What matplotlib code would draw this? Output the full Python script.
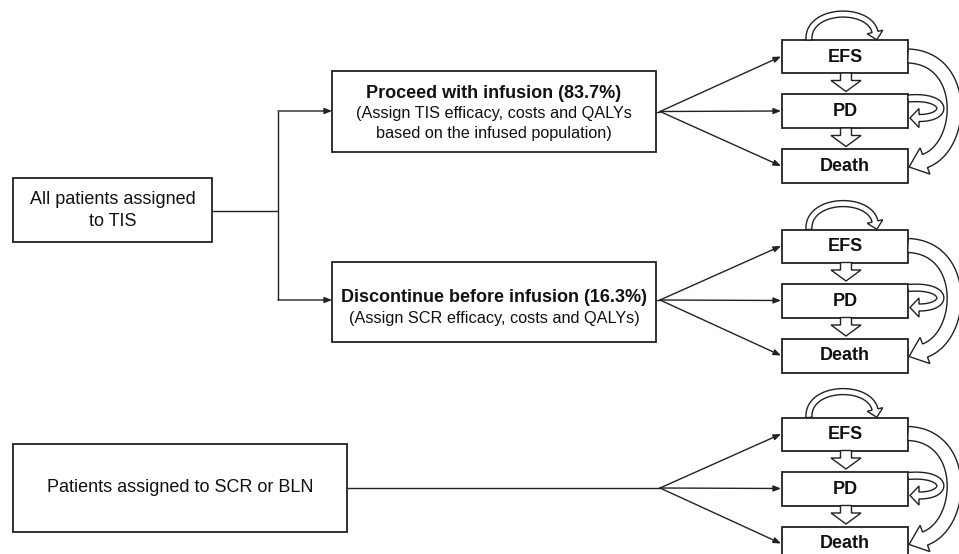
import numpy as np
import matplotlib
matplotlib.use("Agg")
import matplotlib.pyplot as plt
from matplotlib.patches import Rectangle, Polygon

plt.rcParams['font.family'] = ['Liberation Sans', 'DejaVu Sans']

# ---------------- data ----------------
states = ["EFS", "PD", "Death"]
proceed_pct = 83.7
discontinue_pct = 16.3
root_label = "All patients assigned\nto TIS"
comparator_label = "Patients assigned to SCR or BLN"
branch_titles = [f"Proceed with infusion ({proceed_pct}%)",
                 f"Discontinue before infusion ({discontinue_pct}%)"]
branch_notes = ["(Assign TIS efficacy, costs and QALYs\nbased on the infused population)",
                "(Assign SCR efficacy, costs and QALYs)"]

# ---------------- figure ----------------
W, H = 959, 554
fig = plt.figure(figsize=(W / 100, H / 100), dpi=100)
ax = fig.add_axes([0, 0, 1, 1])
ax.set_xlim(0, W)
ax.set_ylim(H, 0)
ax.axis('off')

EC = '#222222'
TC = '#111111'


def box(x0, y0, x1, y1, lw=1.3):
    ax.add_patch(Rectangle((x0, y0), x1 - x0, y1 - y0, facecolor='white',
                           edgecolor=EC, lw=lw, zorder=2))


def line(pts, lw=1.0):
    pts = np.asarray(pts)
    ax.plot(pts[:, 0], pts[:, 1], color=EC, lw=lw, zorder=1,
            solid_capstyle='butt')


def arrow(p0, p1, lw=1.0):
    ax.annotate("", xy=p1, xytext=p0,
                arrowprops=dict(arrowstyle='-|>,head_length=0.55,head_width=0.22',
                                mutation_scale=8, lw=lw, color=EC,
                                shrinkA=0, shrinkB=0), zorder=1)


def bezier(P, n=300):
    P = np.asarray(P, float)
    t = np.linspace(0, 1, n)[:, None]
    if len(P) == 2:
        return P[0] * (1 - t) + P[1] * t
    return ((1 - t) ** 3) * P[0] + 3 * ((1 - t) ** 2) * t * P[1] + \
        3 * (1 - t) * t ** 2 * P[2] + t ** 3 * P[3]


def hollow_arrow(P, tw, hw, hl, lw=1.0):
    """P: control points of the body centreline (ends at head base)."""
    P = np.asarray(P, float)
    body = bezier(P)
    hd = (P[-1] - P[-2]) / np.hypot(*(P[-1] - P[-2]))
    base = P[-1]
    tip = base + hd * hl
    d = np.gradient(body, axis=0)
    d /= np.hypot(d[:, 0], d[:, 1])[:, None]
    nrm = np.stack([-d[:, 1], d[:, 0]], axis=1)
    hn = np.array([-hd[1], hd[0]])
    nrm[-1] = hn
    left = body + nrm * tw / 2
    right = body - nrm * tw / 2
    poly = np.vstack([left,
                      [base + hn * hw / 2, tip, base - hn * hw / 2],
                      right[::-1]])
    ax.add_patch(Polygon(poly, closed=True, facecolor='white', edgecolor=EC,
                         lw=lw, zorder=3, joinstyle='miter'))


def state_group(dy, fork_y):
    bx0, bx1 = 782, 908
    tops = [40, 94, 149]
    bots = [73, 128, 183]
    cx = (bx0 + bx1) / 2
    for name, t, b in zip(states, tops, bots):
        box(bx0, t + dy, bx1, b + dy)
        ax.text(cx, (t + b) / 2 + dy + 0.5, name, ha='center', va='center',
                fontsize=13, fontweight='bold', color=TC, zorder=4)
        arrow((660, fork_y), (781, (t + b) / 2 + dy))
    # EFS self loop
    hollow_arrow([(809, 40 + dy), (807, 8 + dy), (869, 6 + dy), (875, 32 + dy)],
                 tw=6, hw=16, hl=8)
    # EFS -> PD, PD -> Death
    hollow_arrow([(846, 73 + dy), (846, 80.5 + dy)], tw=11, hw=30, hl=11)
    hollow_arrow([(846, 128 + dy), (846, 135.5 + dy)], tw=11, hw=30, hl=11)
    # EFS -> Death
    hollow_arrow([(908, 56 + dy), (968, 58 + dy), (965, 146 + dy), (925, 161 + dy)],
                 tw=14, hw=28, hl=17)
    # PD self loop
    hollow_arrow([(908, 98.5 + dy), (948, 95 + dy), (950, 118 + dy), (919, 118 + dy)],
                 tw=7, hw=19, hl=9)


# ---------------- TIS tree ----------------
box(13, 178, 212, 242)
ax.text(112.5, 200, root_label.split("\n")[0], ha='center', va='center',
        fontsize=13, color=TC, zorder=4)
ax.text(112.5, 222, root_label.split("\n")[1], ha='center', va='center',
        fontsize=13, color=TC, zorder=4)
line([(212, 211), (278, 211)])
line([(278, 111), (278, 300)])
arrow((278, 111), (332, 111))
arrow((278, 300), (332, 300))

box(332, 71, 656, 152)
ax.text(494, 93, branch_titles[0], ha='center', va='center', fontsize=13,
        fontweight='bold', color=TC, zorder=4)
for i, ln in enumerate(branch_notes[0].split("\n")):
    ax.text(494, 113.5 + 20 * i, ln, ha='center', va='center', fontsize=11.7,
            color=TC, zorder=4)

box(332, 262, 656, 342)
ax.text(494, 298, branch_titles[1], ha='center', va='center', fontsize=13,
        fontweight='bold', color=TC, zorder=4)
ax.text(494, 318.5, branch_notes[1], ha='center', va='center', fontsize=11.7,
        color=TC, zorder=4)

line([(656, 111.5), (660, 111.5)])
line([(656, 300), (660, 300)])
state_group(0, 111.5)
state_group(189.5, 300)

# ---------------- comparator ----------------
box(13, 444, 347, 532)
ax.text(180, 488, comparator_label, ha='center', va='center', fontsize=13,
        color=TC, zorder=4)
line([(347, 488), (660, 488)])
state_group(377.5, 488)

fig.savefig("out.png", dpi=100)
